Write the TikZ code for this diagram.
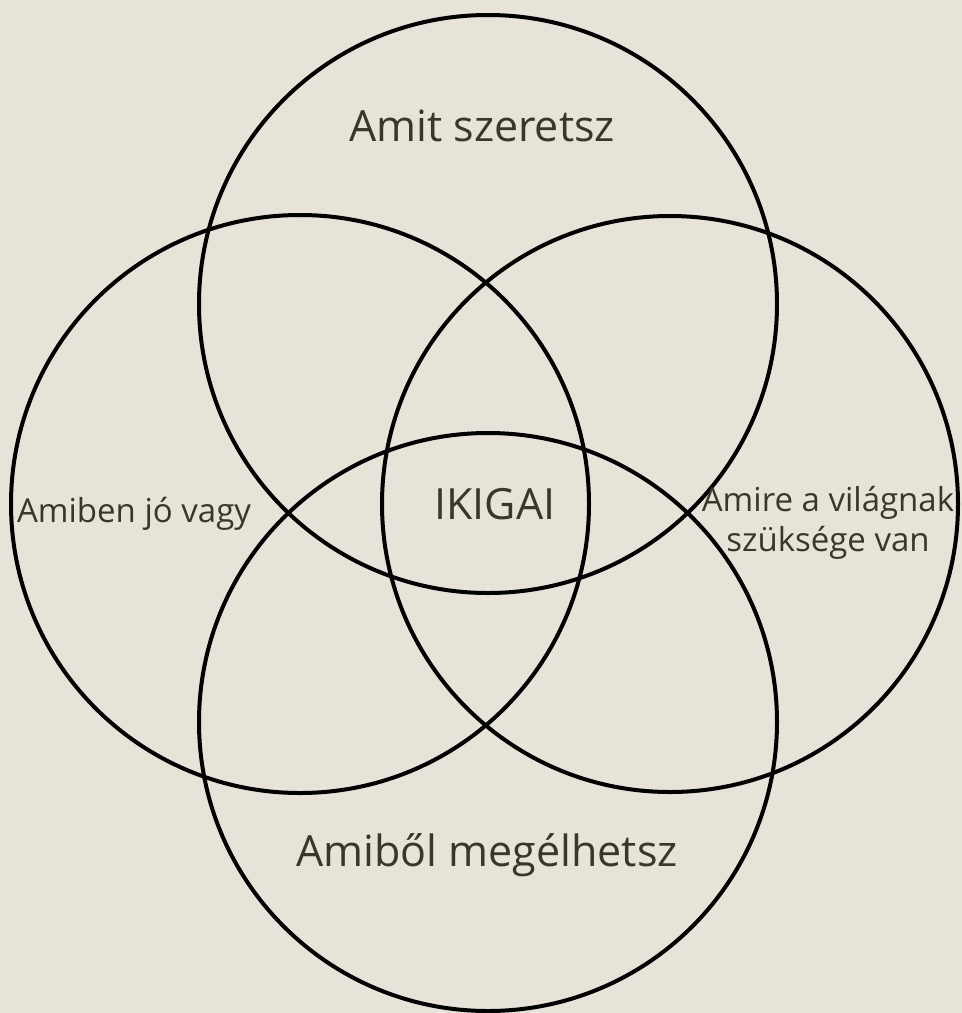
\documentclass[tikz,border=0pt]{standalone}
\usepackage{fontspec}
\setmainfont{Open Sans}
\definecolor{bg}{HTML}{E7E3D9}
\definecolor{ink}{HTML}{3A3628}
\begin{document}
\begin{tikzpicture}[x=1pt,y=-1pt,
  ring/.style={circle,draw=black,line width=4pt,inner sep=0pt,minimum size=578pt},
  big/.style={text=ink,font=\fontsize{43}{50}\selectfont,inner sep=0pt,anchor=base},
  small/.style={text=ink,font=\fontsize{33}{40}\selectfont,inner sep=0pt,anchor=base,align=center}]
\fill[bg] (0,0) rectangle (962,1013);
\useasboundingbox (0,0) rectangle (962,1013);
\node[ring] (top) at (488,304) {};
\node[ring] (left) at (300,504) {};
\node[ring,minimum size=576pt] (right) at (670,504) {};
\node[ring] (bottom) at (488,722) {};
\node[big] (love) at (482,141) {Amit szeretsz};
\node[big] (ikigai) at (495,519) {IKIGAI};
\node[big] (paid) at (487,866) {Amiből megélhetsz};
\node[small] (good) at (134,522) {Amiben jó vagy};
\node[small] (need) at (828,551) {Amire a világnak\\szüksége van};
\end{tikzpicture}
\end{document}
